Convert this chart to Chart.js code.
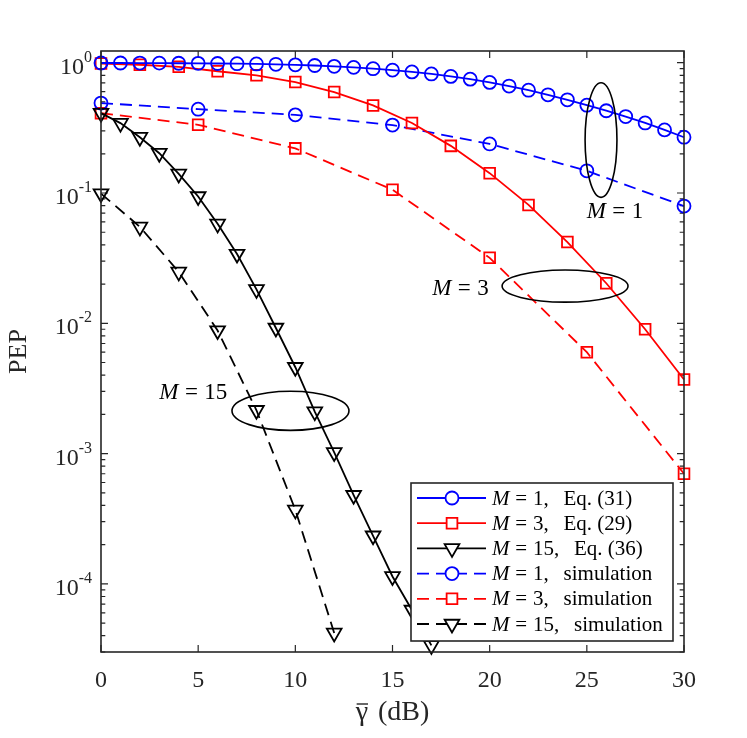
<!DOCTYPE html>
<html>
<head>
<meta charset="utf-8">
<script src="https://cdn.jsdelivr.net/npm/chart.js@4.4.1/dist/chart.umd.min.js"></script>
<style>
  html, body { margin: 0; padding: 0; background: #fff; }
</style>
</head>
<body>
<canvas id="myChart" width="747" height="738"></canvas>
<script>
// ---- data ----
const snrM1Eq = [0,1,2,3,4,5,6,7,8,9,10,11,12,13,14,15,16,17,18,19,20,21,22,23,24,25,26,27,28,29,30];
const pepM1Eq = [0.995,0.995,0.994,0.993,0.991,0.989,0.986,0.983,0.978,0.972,0.963,0.952,0.938,0.921,0.900,0.877,0.850,0.820,0.785,0.748,0.706,0.662,0.615,0.567,0.519,0.472,0.428,0.386,0.345,0.305,0.268];

const snrM3Eq = [0,2,4,6,8,10,12,14,16,18,20,22,24,26,28,30];
const pepM3Eq = [0.985,0.965,0.93,0.86,0.80,0.71,0.595,0.47,0.345,0.23,0.142,0.081,0.042,0.0203,0.009,0.0037];

const snrM15Eq = [0,1,2,3,4,5,6,7,8,9,10,11,12,13,14,15,16,17];
const pepM15Eq = [0.41,0.344,0.268,0.202,0.14,0.094,0.058,0.034,0.0182,0.0092,0.0046,0.0021,0.00102,0.000479,0.000234,0.000114,0.000063,0.0000337];

const snrSim = [0,5,10,15,20,25,30];
const pepM1Sim = [0.49,0.44,0.398,0.332,0.238,0.148,0.0794];
const pepM3Sim = [0.41,0.334,0.22,0.106,0.0318,0.006,0.0007];

const snrM15Sim = [0,2,4,6,8,10,12];
const pepM15Sim = [0.099,0.055,0.0248,0.0088,0.00215,0.00037,0.000042];

const xTicks = [0,5,10,15,20,25,30];
const yTickExps = [0,-1,-2,-3,-4];

// legend entries: value of M and the text after the comma
const legendM = ['1', '3', '15', '1', '3', '15'];
const legendTail = ['Eq. (31)', 'Eq. (29)', 'Eq. (36)', 'simulation', 'simulation', 'simulation'];

// group annotations: value of M, text centre, ellipse centre (dB, PEP), half width (dB), half height (decades)
const groupNotes = [
  { m: '1',  tx: 26.45, ty: 0.0715, cx: 25.73, cy: 0.255,  rx: 0.82, ry: 0.44 },
  { m: '3',  tx: 18.5,  ty: 0.0183, cx: 23.88, cy: 0.0193, rx: 3.24, ry: 0.123 },
  { m: '15', tx: 4.75,  ty: 0.0029, cx: 9.75,  cy: 0.00213, rx: 3.01, ry: 0.15 }
];

const pts = (xs, ys) => xs.map((x, i) => ({ x: x, y: ys[i] }));

const FONT = '"Liberation Serif", "DejaVu Serif", serif';
const AXIS = '#262626';
const DASH = [12, 7];

function series(label, xs, ys, color, style, radius, dashed) {
  return {
    label: label,
    data: pts(xs, ys),
    borderColor: color,
    borderWidth: 1.8,
    borderDash: dashed ? DASH : [],
    pointStyle: style,
    pointRadius: radius,
    pointHoverRadius: radius,
    pointRotation: style === 'triangle' ? 180 : 0,
    pointBorderColor: color,
    pointBackgroundColor: 'rgba(0,0,0,0)',
    pointBorderWidth: 1.8,
    fill: false,
    tension: 0,
    clip: false
  };
}

const datasets = [
  series('M = 1, ' + legendTail[0], snrM1Eq, pepM1Eq, '#0000ff', 'circle', 6.5, false),
  series('M = 3, ' + legendTail[1], snrM3Eq, pepM3Eq, '#ff0000', 'rect', 7.6, false),
  series('M = 15, ' + legendTail[2], snrM15Eq, pepM15Eq, '#000000', 'triangle', 8.5, false),
  series('M = 1, ' + legendTail[3], snrSim, pepM1Sim, '#0000ff', 'circle', 6.5, true),
  series('M = 3, ' + legendTail[4], snrSim, pepM3Sim, '#ff0000', 'rect', 7.6, true),
  series('M = 15, ' + legendTail[5], snrM15Sim, pepM15Sim, '#000000', 'triangle', 8.5, true)
];

// "M = n" with italic M and TeX-like spacing, optionally followed by ", tail"
function mathLabel(ctx, x, y, size, num, tail, align) {
  const up = size + 'px ' + FONT;
  const it = 'italic ' + size + 'px ' + FONT;
  const k = 0.28 * size;
  const g = 0.7 * size;
  const pieces = [[it, 'M', k], [up, '=', k], [up, num + (tail ? ',' : ''), tail ? g : 0]];
  if (tail) pieces.push([up, tail, 0]);
  let total = 0;
  pieces.forEach(p => { ctx.font = p[0]; p.w = ctx.measureText(p[1]).width; total += p.w + p[2]; });
  let cx = align === 'center' ? x - total / 2 : x;
  ctx.textAlign = 'left';
  ctx.textBaseline = 'middle';
  pieces.forEach(p => {
    ctx.font = p[0];
    ctx.fillText(p[1], cx, y);
    cx += p.w + p[2];
  });
}

const framePlugin = {
  id: 'frame',
  beforeDatasetsDraw(chart) {
    const ctx = chart.ctx;
    const a = chart.chartArea;
    const xs = chart.scales.x, ys = chart.scales.y;
    ctx.save();
    ctx.strokeStyle = AXIS;
    ctx.lineWidth = 1.2;
    ctx.beginPath();
    xTicks.forEach(t => {
      const px = xs.getPixelForValue(t);
      ctx.moveTo(px, a.bottom); ctx.lineTo(px, a.bottom - 7);
      ctx.moveTo(px, a.top); ctx.lineTo(px, a.top + 7);
    });
    for (let e = -5; e <= 0; e++) {
      for (let m = 1; m <= 9; m++) {
        const v = m * Math.pow(10, e);
        if (v < ys.min || v > ys.max) continue;
        const py = ys.getPixelForValue(v);
        const len = m === 1 ? 7 : 4.3;
        ctx.moveTo(a.left, py); ctx.lineTo(a.left + len, py);
        ctx.moveTo(a.right, py); ctx.lineTo(a.right - len, py);
      }
    }
    ctx.stroke();

    // tick labels
    ctx.fillStyle = AXIS;
    ctx.font = '24px ' + FONT;
    ctx.textAlign = 'center';
    ctx.textBaseline = 'alphabetic';
    xTicks.forEach(t => {
      ctx.fillText(String(t), xs.getPixelForValue(t), a.bottom + 35);
    });
    yTickExps.forEach(e => {
      const py = ys.getPixelForValue(Math.pow(10, e));
      const sup = String(e);
      ctx.font = '16px ' + FONT;
      const wS = ctx.measureText(sup).width;
      const xBase = a.left - 9 - wS;
      ctx.textAlign = 'left';
      ctx.textBaseline = 'alphabetic';
      ctx.fillText(sup, xBase, py - 1);
      ctx.font = '24px ' + FONT;
      ctx.textAlign = 'right';
      ctx.fillText('10', xBase, py + 11);
    });

    // x title: gamma with a bar, then (dB)
    ctx.font = '28px ' + FONT;
    ctx.textAlign = 'left';
    ctx.textBaseline = 'alphabetic';
    const gW = ctx.measureText('\u03b3').width;
    const rest = ' (dB)';
    const rW = ctx.measureText(rest).width;
    const tx0 = (a.left + a.right) / 2 - (gW + rW + 3) / 2;
    ctx.fillText('\u03b3', tx0, 720);
    ctx.fillText(rest, tx0 + gW + 3, 720);
    ctx.lineWidth = 1.4;
    ctx.strokeStyle = AXIS;
    ctx.beginPath();
    ctx.moveTo(tx0 + 1, 704);
    ctx.lineTo(tx0 + gW, 704);
    ctx.stroke();

    // y title
    ctx.save();
    ctx.translate(26, (a.top + a.bottom) / 2);
    ctx.rotate(-Math.PI / 2);
    ctx.textAlign = 'center';
    ctx.textBaseline = 'alphabetic';
    ctx.font = '26px ' + FONT;
    ctx.fillText('PEP', 0, 0);
    ctx.restore();
    ctx.restore();
  },
  afterDatasetsDraw(chart) {
    const ctx = chart.ctx;
    const a = chart.chartArea;
    const xs = chart.scales.x, ys = chart.scales.y;
    ctx.save();
    ctx.strokeStyle = AXIS;
    ctx.lineWidth = 1.6;
    ctx.strokeRect(a.left, a.top, a.right - a.left, a.bottom - a.top);

    // group ellipses and labels
    ctx.strokeStyle = '#000';
    ctx.fillStyle = '#000';
    ctx.lineWidth = 1.6;
    groupNotes.forEach(n => {
      const cx = xs.getPixelForValue(n.cx);
      const cy = ys.getPixelForValue(n.cy);
      const rx = xs.getPixelForValue(n.cx + n.rx) - cx;
      const ry = cy - ys.getPixelForValue(n.cy * Math.pow(10, n.ry));
      ctx.beginPath();
      ctx.ellipse(cx, cy, rx, ry, 0, 0, Math.PI * 2);
      ctx.stroke();
      mathLabel(ctx, xs.getPixelForValue(n.tx), ys.getPixelForValue(n.ty), 23, n.m, null, 'center');
    });

    // legend
    const w = 262, rowH = 25.2, h = 158;
    const left = a.right - 11 - w;
    const top = a.bottom - 11 - h;
    ctx.fillStyle = '#fff';
    ctx.fillRect(left, top, w, h);
    ctx.strokeStyle = AXIS;
    ctx.lineWidth = 1.6;
    ctx.strokeRect(left, top, w, h);
    chart.data.datasets.forEach((ds, i) => {
      const y = top + 15 + i * rowH;
      ctx.save();
      ctx.strokeStyle = ds.borderColor;
      ctx.lineWidth = ds.borderWidth;
      ctx.setLineDash(ds.borderDash);
      ctx.beginPath();
      ctx.moveTo(left + 6, y);
      ctx.lineTo(left + 75, y);
      ctx.stroke();
      ctx.restore();
      ctx.save();
      ctx.strokeStyle = ds.borderColor;
      ctx.fillStyle = '#fff';
      ctx.lineWidth = ds.pointBorderWidth;
      Chart.helpers.drawPoint(ctx, {
        pointStyle: ds.pointStyle,
        rotation: ds.pointRotation,
        radius: ds.pointRadius,
        borderWidth: ds.pointBorderWidth
      }, left + 41, y);
      ctx.restore();
      ctx.fillStyle = '#000';
      mathLabel(ctx, left + 81, y + 1, 21, legendM[i], legendTail[i], 'left');
    });
    ctx.restore();
  }
};

new Chart(document.getElementById('myChart'), {
  type: 'line',
  data: { datasets: datasets },
  options: {
    responsive: false,
    animation: false,
    devicePixelRatio: 1,
    layout: { padding: { left: 101, right: 63, top: 51, bottom: 86 } },
    plugins: { legend: { display: false }, tooltip: { enabled: false } },
    scales: {
      x: { type: 'linear', min: 0, max: 30, display: false },
      y: { type: 'logarithmic', min: 3e-5, max: 1.23, display: false }
    }
  },
  plugins: [framePlugin]
});
</script>
</body>
</html>
